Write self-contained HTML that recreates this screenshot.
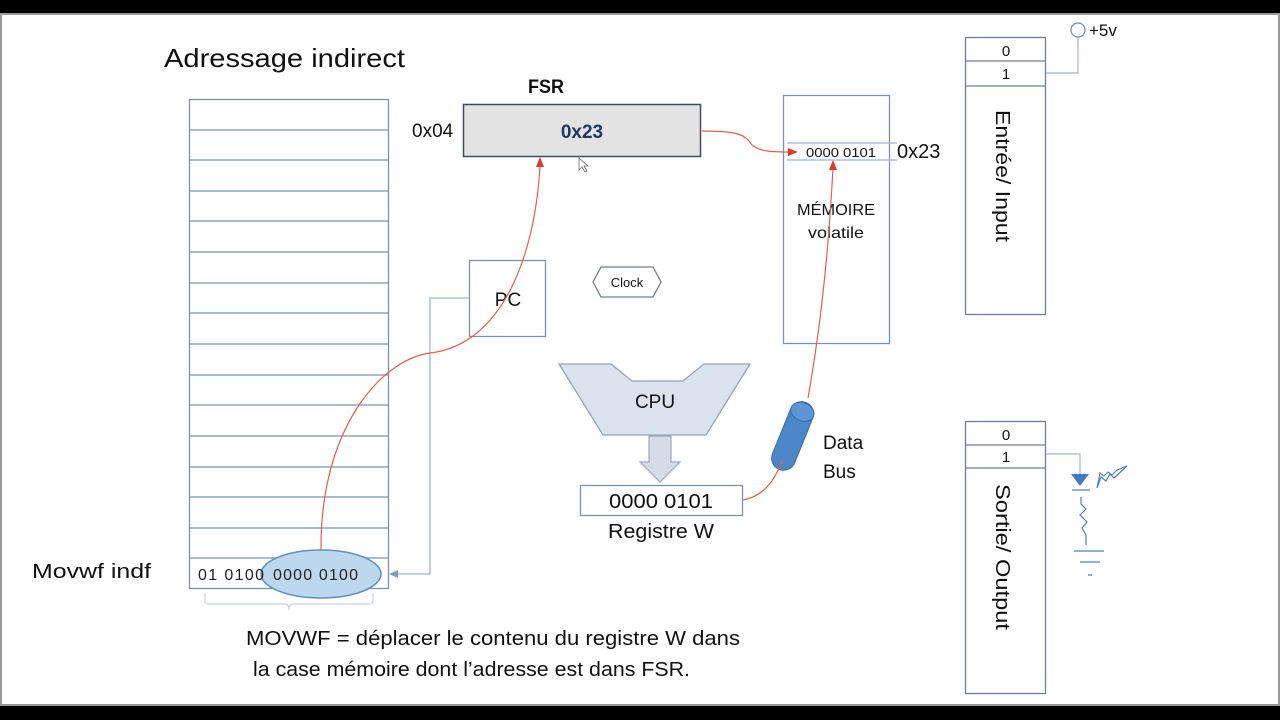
<!DOCTYPE html>
<html><head><meta charset="utf-8"><style>
html,body{margin:0;padding:0;background:#000;}
svg{display:block;font-family:"Liberation Sans",sans-serif;}
</style></head><body>
<svg width="1280" height="720" viewBox="0 0 1280 720" xmlns="http://www.w3.org/2000/svg">
<rect x="0" y="0" width="1280" height="720" fill="#000"/>
<rect x="1" y="14" width="1278" height="691" fill="#fff" stroke="#999" stroke-width="2"/>
<text x="164" y="67" font-size="26" fill="#111" textLength="241" lengthAdjust="spacingAndGlyphs">Adressage indirect</text>

<!-- memory table -->
<g stroke="#7a93ad" stroke-width="1.3" fill="none">
<rect x="189.5" y="99.5" width="199" height="489"/>
<path d="M189 130H388M189 160H388M189 191H388M189 221H388M189 252H388M189 283H388M189 313H388M189 344H388M189 375H388M189 405H388M189 436H388M189 467H388M189 497H388M189 528H388M189 558H388"/>
</g>
<ellipse cx="321" cy="574" rx="60" ry="24" fill="#bdd7ee" stroke="#5b8fc7" stroke-width="1.5"/>
<text x="198" y="580" font-size="16" fill="#222" textLength="66" lengthAdjust="spacing">01  0100</text>
<text x="273" y="580" font-size="16" fill="#222" textLength="85" lengthAdjust="spacing">0000  0100</text>
<text x="32" y="578" font-size="20" fill="#111" textLength="119" lengthAdjust="spacingAndGlyphs">Movwf  indf</text>
<path d="M205 593 v8 q0 3 4 3 h76 q4 0 4 6 q0-6 4-6 h76 q4 0 4-3 v-8" fill="none" stroke="#c7d3df" stroke-width="1.2"/>
<text x="246" y="645" font-size="20" fill="#111" textLength="494" lengthAdjust="spacingAndGlyphs">MOVWF = déplacer le contenu du registre W dans</text>
<text x="253" y="676" font-size="20" fill="#111" textLength="437" lengthAdjust="spacingAndGlyphs">la case mémoire dont l’adresse est dans FSR.</text>

<!-- FSR -->
<text x="528" y="93" font-size="19" font-weight="bold" fill="#111" textLength="36" lengthAdjust="spacingAndGlyphs">FSR</text>
<rect x="463.5" y="104.5" width="237" height="52" fill="#e3e3e3" stroke="#3d4f66" stroke-width="1.5"/>
<text x="582" y="138" font-size="19" font-weight="bold" fill="#1f3864" text-anchor="middle">0x23</text>
<text x="412" y="137" font-size="19" fill="#111">0x04</text>
<path d="M579 158 l0 12 l3-3 l3 5 l2-1 l-3-5 h4z" fill="#fff" stroke="#666" stroke-width="0.8"/>

<!-- PC -->
<rect x="469.5" y="260.5" width="76" height="76" fill="#fff" stroke="#7a93ad" stroke-width="1.3"/>
<text x="508" y="306" font-size="19" fill="#111" text-anchor="middle">PC</text>
<path d="M469 298 H430 V574 H396" fill="none" stroke="#9fb4cc" stroke-width="1.3"/>
<path d="M389 574 l9-4 v8z" fill="#7a9cc6"/>

<!-- Clock -->
<path d="M593 282 L601 267 H653 L661 282 L653 297 H601 Z" fill="#fff" stroke="#6b7f96" stroke-width="1.3"/>
<text x="627" y="287" font-size="13" fill="#111" text-anchor="middle">Clock</text>

<!-- CPU -->
<path d="M559 364 H611 L632 381 H683 L704 364 H750 L706 435 H603 Z" fill="#dae3ee" stroke="#8ea4bd" stroke-width="1.3"/>
<text x="655" y="408" font-size="19" fill="#111" text-anchor="middle">CPU</text>
<path d="M649 436 H671 V462 H680 L660 482 L640 462 H649 Z" fill="#d5dce6" stroke="#9aa9bb" stroke-width="1.2"/>

<!-- Registre W -->
<rect x="580.5" y="485.5" width="162" height="30" fill="#fff" stroke="#7a93ad" stroke-width="1.3"/>
<text x="661" y="508" font-size="20" fill="#111" text-anchor="middle" textLength="104" lengthAdjust="spacingAndGlyphs">0000 0101</text>
<text x="661" y="538" font-size="20" fill="#111" text-anchor="middle" textLength="106" lengthAdjust="spacingAndGlyphs">Registre W</text>

<!-- Data bus -->
<g transform="rotate(22 793 435)">
<rect x="781" y="400" width="24" height="72" rx="12" fill="#4a86c8" stroke="#3a6fa8"/>
<ellipse cx="793" cy="410" rx="12" ry="9" fill="#5d96d4" stroke="#3a6fa8"/>
</g>
<text x="823" y="449" font-size="19" fill="#111">Data</text>
<text x="823" y="478" font-size="19" fill="#111">Bus</text>

<!-- Memory volatile -->
<rect x="783.5" y="95.5" width="106" height="248" fill="#fff" stroke="#7a93ad" stroke-width="1.3"/>
<path d="M787 143 H897 M787 160 H897" stroke="#9fb4cc" stroke-width="1.2"/>
<text x="841" y="157" font-size="13" fill="#111" text-anchor="middle" textLength="70" lengthAdjust="spacingAndGlyphs">0000 0101</text>
<text x="897" y="158" font-size="20" fill="#111">0x23</text>
<text x="836" y="215" font-size="16" fill="#111" text-anchor="middle" textLength="78" lengthAdjust="spacingAndGlyphs">MÉMOIRE</text>
<text x="836" y="238" font-size="16" fill="#111" text-anchor="middle" textLength="56" lengthAdjust="spacingAndGlyphs">volatile</text>

<!-- red connectors -->
<g fill="none" stroke="#e0604f" stroke-width="1.2">
<path d="M321 550 C320 430 380 360 430 353 C500 345 535 260 540 165"/>
<path d="M702 131 C740 131 745 135 752 145 C760 152 775 152 790 152"/>
<path d="M743 500 C770 495 778 470 783 460"/>
<path d="M808 398 C820 330 828 260 833 168"/>
</g>
<g fill="#e03a2a">
<path d="M540 157 l-4 10 h8z"/>
<path d="M798 152 l-10 -4 v8z"/>
<path d="M833 160 l-4 10 h8z"/>
</g>

<!-- Entree -->
<rect x="965.5" y="37.5" width="80" height="277" fill="#fff" stroke="#6b7f96" stroke-width="1.3"/>
<path d="M965 61H1045M965 86H1045" stroke="#6b7f96" stroke-width="1.2"/>
<text x="1006" y="56" font-size="15" fill="#111" text-anchor="middle">0</text>
<text x="1006" y="79" font-size="15" fill="#111" text-anchor="middle">1</text>
<text transform="translate(996 176) rotate(90)" font-size="20" fill="#111" text-anchor="middle" textLength="132" lengthAdjust="spacingAndGlyphs">Entrée/ Input</text>
<path d="M1046 73 H1078 V37" fill="none" stroke="#9fb4cc" stroke-width="1.2"/>
<circle cx="1078" cy="30" r="7" fill="#fff" stroke="#7a8ea5" stroke-width="1.3"/>
<text x="1089" y="36" font-size="17" fill="#111">+5v</text>

<!-- Sortie -->
<rect x="965.5" y="421.5" width="80" height="272" fill="#fff" stroke="#6b7f96" stroke-width="1.3"/>
<path d="M965 445H1045M965 468H1045" stroke="#6b7f96" stroke-width="1.2"/>
<text x="1006" y="440" font-size="15" fill="#111" text-anchor="middle">0</text>
<text x="1006" y="462" font-size="15" fill="#111" text-anchor="middle">1</text>
<text transform="translate(996 557) rotate(90)" font-size="20" fill="#111" text-anchor="middle" textLength="146" lengthAdjust="spacingAndGlyphs">Sortie/ Output</text>
<path d="M1046 454 H1080 V474" fill="none" stroke="#9fb4cc" stroke-width="1.2"/>
<path d="M1071 474 H1089 L1080 486 Z" fill="#3a7cc8"/>
<g fill="none" stroke="#4f80b8" stroke-width="1.2">
<path d="M1072 490 H1090"/>
<path d="M1097 488 L1101 477 L1106 481 L1110 474 L1114 478 L1127 466 L1117 470 L1112 475 L1108 472 L1104 476 L1100 473 Z"/>
<path d="M1081 497 V504 L1086 509 L1080 515 L1087 522 L1082 528 L1086 535 V545"/>
<path d="M1074 551 H1104 M1080 562 H1100 M1088 575 H1092"/>
</g>
</svg>
</body></html>
